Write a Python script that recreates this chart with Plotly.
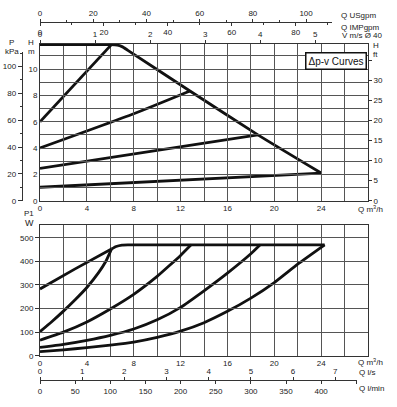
import plotly.graph_objects as go

# ---------------- data ----------------
# Top chart: delta-p-v curves, Q [m3/h] vs H [m]
q_max = [0, 6.0, 6.6, 7.0, 7.5, 12.8, 18.6, 24.0]
h_max = [11.85, 11.85, 11.82, 11.7, 11.42, 8.33, 5.0, 2.1]
q_c1 = [0, 6.1]
h_c1 = [6.0, 11.85]
q_c2 = [0, 8, 12.8]
h_c2 = [4.0, 6.6, 8.33]
q_c3 = [0, 18.6]
h_c3 = [2.46, 5.0]
q_c4 = [0, 24]
h_c4 = [1.02, 2.1]

# Bottom chart: Q [m3/h] vs P1 [W]
q_pa = [0, 3, 6.1]
p_pa = [283, 368, 452]
q_pb = [0, 1, 2, 3, 4, 5, 5.6, 6.1]
p_pb = [102, 144, 189, 237, 289, 352, 398, 452]
q_pc = [0, 2, 4, 6, 8, 10, 11, 12, 12.9]
p_pc = [66, 100, 143, 198, 260, 336, 380, 425, 470]
q_pd = [0, 2, 4, 6, 8, 10, 12, 14, 16, 18, 18.8]
p_pd = [35, 48, 65, 86, 113, 152, 205, 275, 350, 432, 470]
q_pe = [0, 2, 4, 6, 8, 10, 12, 14, 16, 18, 20, 22, 24.3]
p_pe = [17, 25, 34, 45, 58, 78, 104, 140, 188, 244, 310, 388, 470]
q_pf = [6.1, 6.5, 7.0, 7.5, 24.3]
p_pf = [452, 463, 469, 470, 470]

# axis ticks
q_grid = list(range(0, 29, 2))
q_labels = [str(v) if v % 4 == 0 and v <= 24 else "" for v in q_grid]
h_grid = list(range(0, 12))
h_labels = [str(v) if v % 2 == 0 else "" for v in h_grid]
ft_ticks = [0, 5, 10, 15, 20, 25, 30, 35]
ft_labels = ["0", "5", "10", "15", "20", "25", "30", ""]
p1_ticks = [0, 100, 200, 300, 400, 500]
lmin_ticks = [0, 50, 100, 150, 200, 250, 300, 350, 400, 450]
lmin_labels = ["0", "50", "100", "150", "200", "250", "300", "350", "400", ""]

# unit conversions (per m3/h or per m)
USGPM = 4.403
IMPGPM = 3.666
MS = 1 / 4.7
KPA = 9.81
FT = 3.2808
LS = 1 / 3.6
LMIN = 1000 / 60

Q_TOP = 28
H_TOP = 11.9
P1_TOP = 554

# ---------------- layout helpers ----------------
W, H = 397, 407
def px(x):
    return x / W
def py(y):
    return 1 - y / H

FONT = "Liberation Sans, Arial, sans-serif"
TXT = "#222"
GRID = "#555555"
LINE = "#333"
CURVE = "#111"
XL, XR = 40, 368           # plot left/right pixel
PX_PER_Q = (XR - XL) / Q_TOP

fig = go.Figure()

def curve(x, y, xa, ya):
    fig.add_trace(go.Scatter(x=x, y=y, xaxis=xa, yaxis=ya, mode="lines",
                             line=dict(color=CURVE, width=2.8, shape="spline", smoothing=0.5),
                             hoverinfo="skip", showlegend=False))

def dummy(xa, ya):
    fig.add_trace(go.Scatter(x=[0], y=[0], xaxis=xa, yaxis=ya, mode="markers",
                             marker=dict(opacity=0), hoverinfo="skip", showlegend=False))

for qx, hy in [(q_max, h_max), (q_c1, h_c1), (q_c2, h_c2), (q_c3, h_c3), (q_c4, h_c4)]:
    curve(qx, hy, "x", "y")
for qx, py_ in [(q_pa, p_pa), (q_pb, p_pb), (q_pc, p_pc), (q_pd, p_pd), (q_pe, p_pe), (q_pf, p_pf)]:
    curve(qx, py_, "x2", "y2")

dummy("x3", "y")
dummy("x4", "y")
dummy("x5", "y")
dummy("x", "y3")
dummy("x", "y4")
dummy("x6", "y2")
dummy("x7", "y2")

tf = dict(family=FONT, size=8, color=TXT)
xdom = [px(XL), px(XR)]
top_dom = [py(200.7), py(44)]
bot_dom = [py(355.7), py(225)]

base_x = dict(range=[0, Q_TOP], tickmode="array", tickvals=q_grid, ticktext=q_labels,
              showgrid=True, gridcolor=GRID, gridwidth=1, zeroline=False,
              showline=True, linecolor=LINE, linewidth=1, mirror=True, ticks="",
              tickfont=tf, domain=xdom)

# extra axis extents
usg_end = 331.7
usg_q = (usg_end - XL) / PX_PER_Q
ls_end = 357
ls_q = (ls_end - XL) / PX_PER_Q
kpa_top_px = 52
kpa_m = (200.7 - kpa_top_px) / ((200.7 - 44) / H_TOP)

fig.update_layout(
    width=W, height=H,
    margin=dict(l=0, r=0, t=0, b=0, pad=0, autoexpand=False),
    paper_bgcolor="white", plot_bgcolor="rgba(0,0,0,0)",
    font=dict(family=FONT, size=8, color=TXT),
    xaxis=dict(anchor="y", **base_x),
    yaxis=dict(domain=top_dom, anchor="x", range=[0, H_TOP], tickmode="array",
               tickvals=h_grid, ticktext=h_labels, showgrid=True, gridcolor=GRID,
               zeroline=False, showline=True, linecolor=LINE, mirror=True, ticks="",
               tickfont=tf),
    xaxis2=dict(anchor="y2", **base_x),
    yaxis2=dict(domain=bot_dom, anchor="x2", range=[0, P1_TOP], tickmode="array",
                tickvals=p1_ticks, showgrid=True, gridcolor=GRID, zeroline=False,
                showline=True, linecolor=LINE, mirror=True, ticks="outside", ticklen=4,
                tickcolor=LINE, tickfont=tf),
    # Q USgpm (top, labels above line)
    xaxis3=dict(anchor="free", position=py(21.7), domain=[px(XL), px(usg_end)],
                range=[0, usg_q * USGPM], side="top", tickmode="linear", tick0=0, dtick=20,
                ticks="outside", ticklen=3, tickcolor=LINE, showline=True, linecolor=LINE,
                showgrid=False, zeroline=False, tickfont=tf,
                minor=dict(ticks="outside", ticklen=2, dtick=10, tickcolor=LINE, showgrid=False)),
    # Q IMPgpm (labels below line)
    xaxis4=dict(anchor="free", position=py(21.7), domain=[px(XL), px(usg_end)],
                range=[0, usg_q * IMPGPM], side="bottom", tickmode="linear", tick0=0, dtick=20,
                ticks="outside", ticklen=3, tickcolor=LINE, showline=False,
                showgrid=False, zeroline=False, tickfont=tf,
                minor=dict(ticks="outside", ticklen=2, dtick=10, tickcolor=LINE, showgrid=False)),
    # V m/s on top edge of top chart
    xaxis5=dict(overlaying="x", anchor="y", side="top", range=[0, Q_TOP * MS],
                tickmode="linear", tick0=0, dtick=1, ticks="outside", ticklen=3,
                tickcolor=LINE, showgrid=False, zeroline=False, showline=False, tickfont=tf),
    # P kPa (left, free)
    yaxis3=dict(anchor="free", position=px(21.7), domain=[py(200.7), py(kpa_top_px)],
                range=[0, kpa_m * KPA], side="left", tickmode="linear", tick0=0, dtick=20,
                ticks="outside", ticklen=4, tickcolor=LINE, showline=True, linecolor=LINE,
                showgrid=False, zeroline=False, tickfont=tf,
                minor=dict(ticks="outside", ticklen=2, dtick=10, tickcolor=LINE, showgrid=False)),
    # H ft (right)
    yaxis4=dict(overlaying="y", anchor="x", side="right", range=[0, H_TOP * FT],
                tickmode="array", tickvals=ft_ticks, ticktext=ft_labels, ticks="outside",
                ticklen=3, tickcolor=LINE, showgrid=False, zeroline=False, showline=False,
                tickfont=tf),
    # Q l/s (bottom, labels above line)
    xaxis6=dict(anchor="free", position=py(380), domain=[px(XL), px(ls_end)],
                range=[0, ls_q * LS], side="top", tickmode="linear", tick0=0, dtick=1,
                ticks="outside", ticklen=3, tickcolor=LINE, showline=True, linecolor=LINE,
                showgrid=False, zeroline=False, tickfont=tf),
    # Q l/min (labels below line)
    xaxis7=dict(anchor="free", position=py(380), domain=[px(XL), px(ls_end)],
                range=[0, ls_q * LMIN], side="bottom", tickmode="array", tickvals=lmin_ticks,
                ticktext=lmin_labels, ticks="outside", ticklen=3, tickcolor=LINE,
                showline=False, showgrid=False, zeroline=False, tickfont=tf),
)

af = dict(family=FONT, size=8, color=TXT)
def note(text, x, y, xanchor="center", size=None):
    f = dict(af)
    if size:
        f["size"] = size
    fig.add_annotation(text=text, x=px(x), y=py(y), xref="paper", yref="paper",
                       xanchor=xanchor, yanchor="middle", showarrow=False, font=f,
                       borderpad=0)

note("P", 11.5, 42.5)
note("kPa", 11.5, 51.5)
note("H", 31, 42.5)
note("m", 31, 51.5)
note("H", 375.5, 45.5)
note("ft", 375.5, 55)
note("P1", 29, 213.5)
note("W", 29, 223.5, size=9)
note("Q USgpm", 340, 15, "left")
note("Q IMPgpm", 340, 27.3, "left")
note("V m/s Ø 40", 341, 35.5, "left")
note("Q m<sup>3</sup>/h", 357, 208.5, "left")
note("Q m<sup>3</sup>/h", 357, 362, "left")
note("Q l/s", 358, 372, "left")
note("Q l/min", 358, 388, "left")

fig.add_annotation(text="Δp-v Curves", x=px(335.5), y=py(60.5), xref="paper", yref="paper",
                   xanchor="center", yanchor="middle", showarrow=False,
                   font=dict(family=FONT, size=10, color="#111"),
                   bordercolor="#111", borderwidth=1.5, borderpad=2, bgcolor="white")

fig.write_html("out.html", config={"displayModeBar": False},
               post_script="document.body.style.margin='0px';")
